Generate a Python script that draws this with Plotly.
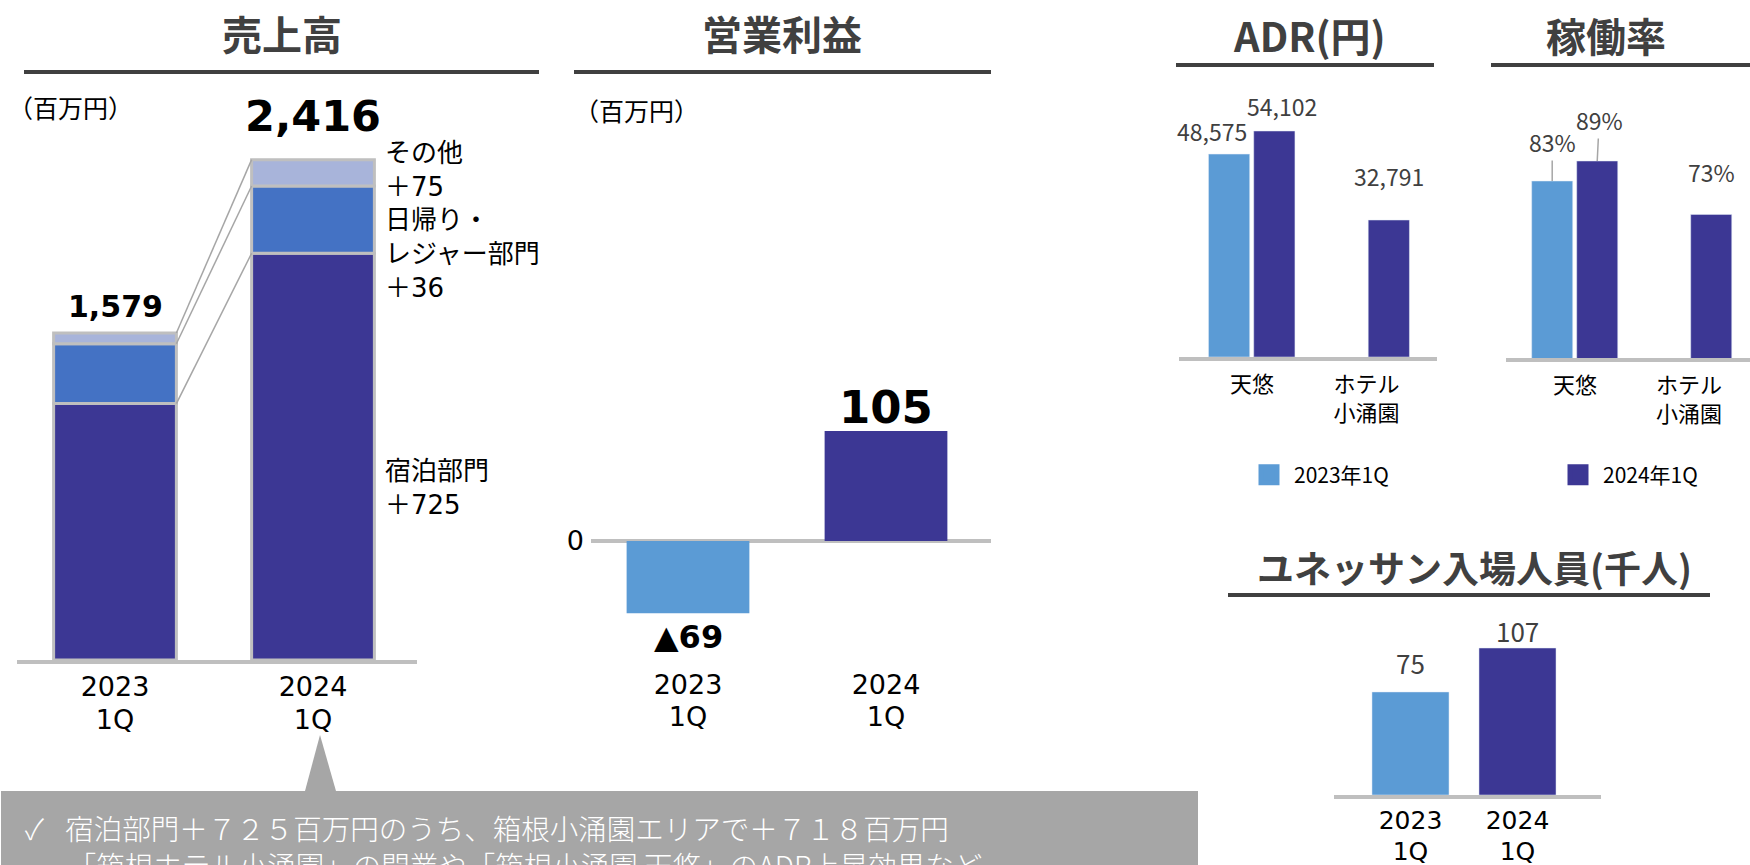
import plotly.graph_objects as go

W, H = 1750, 865
FONT = "Noto Sans CJK JP"
NUMFONT = "DejaVu Sans, Noto Sans CJK JP"
NAVY = "#3C3794"
LIGHT = "#5B9BD5"
MID = "#4472C4"
LAV = "#A8B4DA"
GRAY = "#BFBFBF"
TITLE = "#404040"

# ---------------- data ----------------
period_years = ["2023", "2024"]
period_quarters = ["1Q", "1Q"]
periods = [f"{y} {q}" for y, q in zip(period_years, period_quarters)]
sales_stay = [1238, 1964]
sales_day = [289, 325]
sales_other = [52, 127]
sales_total_labels = ["1,579", "2,416"]
seg_labels = ["宿泊部門<br>＋725", "日帰り・<br>レジャー部門<br>＋36", "その他<br>＋75"]

op_profit = [-69, 105]
op_labels = ["▲69", "105"]

hotels = ["天悠", "ホテル<br>小涌園"]
series_names = ["2023年1Q", "2024年1Q"]
adr_2023 = [48575, None]
adr_2024 = [54102, 32791]
adr_labels_2023 = ["48,575", None]
adr_labels_2024 = ["54,102", "32,791"]
occ_2023 = [83, None]
occ_2024 = [89, 73]

visitors = [75, 107]

titles = ["売上高", "営業利益", "ADR(円)", "稼働率", "ユネッサン入場人員(千人)"]
unit_label = "（百万円）"
callout_text = ("✓\u2002\u2005宿泊部門＋７２５百万円のうち、箱根小涌園エリアで＋７１８百万円<br>"
                "\u3000\u2002「箱根ホテル小涌園」の開業や「箱根小涌園 天悠」のADR上昇効果など")

# ---------------- helpers ----------------
def xd(l, r):
    return [l / W, r / W]

def yd(bottom, top):
    return [1 - bottom / H, 1 - top / H]

def px(x):
    return x / W

def py(y):
    return 1 - y / H

day_base = sales_stay
other_base = [a + b for a, b in zip(sales_stay, sales_day)]
totals = [a + b + c for a, b, c in zip(sales_stay, sales_day, sales_other)]

fig = go.Figure()

# ---- panel 1: stacked sales ----
BW1 = 0.62
for vals, base, col in [(sales_stay, [0, 0], NAVY), (sales_day, day_base, MID), (sales_other, other_base, LAV)]:
    fig.add_trace(go.Bar(x=periods, y=vals, base=base, width=BW1, marker=dict(color=col, line=dict(color=GRAY, width=3)),
                         showlegend=False, xaxis="x", yaxis="y", hoverinfo="skip"))

# ---- panel 2: operating profit ----
fig.add_trace(go.Bar(x=periods, y=op_profit, width=BW1, marker=dict(color=[LIGHT, NAVY], line=dict(width=0)),
                     showlegend=False, xaxis="x2", yaxis="y2", hoverinfo="skip"))

# ---- panel 3: ADR ----
GW = 0.36
OFF23, OFF24 = -0.38, 0.015
fig.add_trace(go.Bar(x=hotels, y=adr_2023, width=GW, offset=OFF23, name=series_names[0], marker=dict(color=LIGHT),
                     showlegend=False, xaxis="x3", yaxis="y3", hoverinfo="skip"))
fig.add_trace(go.Bar(x=hotels, y=adr_2024, width=GW, offset=OFF24, name=series_names[1], marker=dict(color=NAVY),
                     showlegend=False, xaxis="x3", yaxis="y3", hoverinfo="skip"))
# legend entries (bigger swatches)
for nm, col in zip(series_names, [LIGHT, NAVY]):
    fig.add_trace(go.Scatter(x=[None], y=[None], mode="markers", name=nm,
                             marker=dict(symbol="square", size=16, color=col, line=dict(color=col, width=5)),
                             xaxis="x3", yaxis="y3", hoverinfo="skip"))

# ---- panel 4: occupancy (axis starts at 30%) ----
fig.add_trace(go.Bar(x=hotels, y=occ_2023, width=GW, offset=OFF23, marker=dict(color=LIGHT), showlegend=False,
                     xaxis="x4", yaxis="y4", hoverinfo="skip"))
fig.add_trace(go.Bar(x=hotels, y=occ_2024, width=GW, offset=OFF24, marker=dict(color=NAVY), showlegend=False,
                     xaxis="x4", yaxis="y4", hoverinfo="skip"))

# ---- panel 5: visitors ----
fig.add_trace(go.Bar(x=periods, y=visitors, width=0.72, marker=dict(color=[LIGHT, NAVY]), showlegend=False,
                     xaxis="x5", yaxis="y5", hoverinfo="skip"))

# empty traces so that the overlaid "1Q" label axes get drawn
for xa, ya in [("x6", "y"), ("x7", "y2"), ("x8", "y5")]:
    fig.add_trace(go.Scatter(x=[None], y=[None], mode="markers", showlegend=False, hoverinfo="skip",
                             xaxis=xa, yaxis=ya))

ann = []
shapes = []

# titles + underlines
title_pos = [(282, 33, 40), (782, 33, 40), (1309, 35, 40), (1606, 35, 40), (1474, 567, 37)]
for t, (x, y, s) in zip(titles, title_pos):
    ann.append(dict(text=t, x=px(x), y=py(y), xref="paper", yref="paper", xanchor="center", yanchor="middle",
                    showarrow=False, font=dict(family=FONT, size=s, color=TITLE, weight="bold")))
for (x0, x1, y) in [(24, 539, 72), (574, 991, 72), (1176, 1434, 65), (1491, 1750, 65), (1228, 1710, 595)]:
    shapes.append(dict(type="line", xref="paper", yref="paper", x0=px(x0), x1=px(x1), y0=py(y), y1=py(y),
                       line=dict(color=TITLE, width=4)))

for x, y in [(6, 107), (572, 110)]:
    ann.append(dict(text=unit_label, x=px(x), y=py(y), xref="paper", yref="paper", xanchor="left", yanchor="middle",
                    showarrow=False, font=dict(family=FONT, size=25, color="#000")))

# panel 1 labels
for i, (lab, tot, sh, fs) in enumerate(zip(sales_total_labels, totals, [26, 44], [30, 43])):
    ann.append(dict(text=lab, x=i, y=tot, xref="x", yref="y", xanchor="center", yanchor="middle", yshift=sh,
                    showarrow=False, font=dict(family=NUMFONT, size=fs, color="#000", weight="bold")))
seg_mid = [sales_stay[1] / 2, day_base[1] + sales_day[1] / 2, other_base[1] + sales_other[1] / 2]
for lab, ym, sh in zip(seg_labels, seg_mid, [-31, -34, 3]):
    ann.append(dict(text=lab, x=1 + BW1 / 2, y=ym, xref="x", yref="y", xanchor="left", yanchor="middle", xshift=9,
                    yshift=sh, align="left", showarrow=False, font=dict(family=NUMFONT, size=26, color="#000")))
# connectors
conn23 = [sales_stay[0], other_base[0], totals[0]]
conn24 = [sales_stay[1], other_base[1], totals[1]]
for a, b in zip(conn23, conn24):
    shapes.append(dict(type="line", xref="x", yref="y", x0=BW1 / 2, x1=1 - BW1 / 2, y0=a, y1=b,
                       line=dict(color="#A6A6A6", width=1.5)))

# panel 2 labels
for i, (v, lab) in enumerate(zip(op_profit, op_labels)):
    big = v > 0
    ann.append(dict(text=lab, x=i, y=v, xref="x2", yref="y2", xanchor="center", yanchor="middle",
                    yshift=24 if big else -24, showarrow=False,
                    font=dict(family=NUMFONT, size=45 if big else 32, color="#000", weight="bold")))

# panel 3 labels
c23 = OFF23 + GW / 2
c24 = OFF24 + GW / 2
adr_shift_23 = [(-17, 23)]
adr_shift_24 = [(8, 25), (0, 44)]
for i, (v, lab) in enumerate(zip(adr_2023, adr_labels_2023)):
    if v is None:
        continue
    dx, dy = adr_shift_23[i]
    ann.append(dict(text=lab, x=i + c23, y=v, xref="x3", yref="y3", xshift=dx, yshift=dy, showarrow=False,
                    font=dict(family=FONT, size=23, color=TITLE)))
for i, (v, lab) in enumerate(zip(adr_2024, adr_labels_2024)):
    dx, dy = adr_shift_24[i]
    ann.append(dict(text=lab, x=i + c24, y=v, xref="x3", yref="y3", xshift=dx, yshift=dy, showarrow=False,
                    font=dict(family=FONT, size=23, color=TITLE)))

# panel 4 labels
ann.append(dict(text=f"{occ_2023[0]}%", x=0 + c23, y=occ_2023[0], xref="x4", yref="y4", showarrow=True,
                arrowhead=0, arrowwidth=1.5, arrowcolor="#A6A6A6", ax=0, ay=-39,
                font=dict(family=FONT, size=23, color=TITLE)))
ann.append(dict(text=f"{occ_2024[0]}%", x=0 + c24, y=occ_2024[0], xref="x4", yref="y4", showarrow=True,
                arrowhead=0, arrowwidth=1.5, arrowcolor="#A6A6A6", ax=2, ay=-41,
                font=dict(family=FONT, size=23, color=TITLE)))
ann.append(dict(text=f"{occ_2024[1]}%", x=1 + c24, y=occ_2024[1], xref="x4", yref="y4", showarrow=False,
                yshift=42, font=dict(family=FONT, size=23, color=TITLE)))

# panel 5 labels
for i, (v, sh) in enumerate(zip(visitors, [29, 18])):
    ann.append(dict(text=str(v), x=i, y=v, xref="x5", yref="y5", yshift=sh, showarrow=False,
                    font=dict(family=FONT, size=26, color=TITLE)))

# callout box
shapes.append(dict(type="rect", xref="paper", yref="paper", x0=px(1), x1=px(1198), y0=py(791), y1=-0.05,
                   fillcolor="#A6A6A6", line=dict(width=0)))
shapes.append(dict(type="path", xref="paper", yref="paper",
                   path=f"M {px(305)},{py(791)} L {px(320)},{py(735)} L {px(336)},{py(791)} Z",
                   fillcolor="#A6A6A6", line=dict(width=0)))
ann.append(dict(text=callout_text, x=px(22), y=py(805), xref="paper", yref="paper", xanchor="left",
                yanchor="top", align="left", showarrow=False,
                font=dict(family=FONT, size=28.5, color="#FFFFFF", weight=300)))

noy = dict(showgrid=False, zeroline=False, showticklabels=False, ticks="", fixedrange=True)

def year_axis(dom, rng, anchor, size, line, standoff=0):
    return dict(domain=dom, range=rng, type="category", showgrid=False, ticks="", showline=line,
                linecolor=GRAY, linewidth=4, tickmode="array", tickvals=periods, ticktext=period_years,
                ticklabelstandoff=standoff, tickfont=dict(family=NUMFONT, size=size, color="#000"), anchor=anchor)

def quarter_axis(over, rng, anchor, size, standoff):
    return dict(overlaying=over, anchor=anchor, side="bottom", range=rng, type="linear", showgrid=False,
                zeroline=False, showline=False, ticks="", tickmode="array", tickvals=list(range(len(periods))),
                ticktext=period_quarters, ticklabelstandoff=standoff,
                tickfont=dict(family=NUMFONT, size=size, color="#000"))

R1 = [-98 / 198, 1 + 104 / 198]
R2 = [-97 / 198, 1 + 105 / 198]
R5 = [-76.5 / 107, 1 + 83.5 / 107]

fig.update_layout(
    width=W, height=H, margin=dict(l=0, r=0, t=0, b=0, autoexpand=False), paper_bgcolor="white",
    plot_bgcolor="white", barmode="overlay", font=dict(family=FONT),
    xaxis=year_axis(xd(17, 417), R1, "y", 27, True),
    yaxis=dict(domain=yd(660, 100), range=[0, 560 * 1579 / 327], **noy),
    xaxis2=year_axis(xd(591, 991), R2, "y2", 27, False, 6),
    yaxis2=dict(domain=yd(660, 300), range=[-119 * 105 / 110, 241 * 105 / 110], showgrid=False, zeroline=True,
                zerolinecolor=GRAY, zerolinewidth=4, tickvals=[0], ticks="", ticklabelstandoff=6,
                tickfont=dict(family=NUMFONT, size=27, color="#000"), anchor="x2"),
    xaxis3=dict(domain=xd(1179, 1437), range=[-73 / 114.5, 185 / 114.5], type="category", showgrid=False, ticks="",
                showline=True, linecolor=GRAY, linewidth=4, tickfont=dict(family=FONT, size=22, color="#000"),
                ticklabelstandoff=5, anchor="y3"),
    yaxis3=dict(domain=yd(357, 90), range=[0, 267 * 54102 / 226], anchor="x3", **noy),
    xaxis4=dict(domain=xd(1506, 1750), range=[-69 / 114, 175 / 114], type="category", showgrid=False, ticks="",
                showline=True, linecolor=GRAY, linewidth=4, tickfont=dict(family=FONT, size=22, color="#000"),
                ticklabelstandoff=5, anchor="y4"),
    yaxis4=dict(domain=yd(358, 90), range=[30, 30 + 268 * 59 / 197], anchor="x4", **noy),
    xaxis5=year_axis(xd(1334, 1601), R5, "y5", 25, True),
    yaxis5=dict(domain=yd(795, 600), range=[0, 195 * 107 / 147], anchor="x5", **noy),
    xaxis6=quarter_axis("x", R1, "y", 27, 41),
    xaxis7=quarter_axis("x2", R2, "y2", 27, 38),
    xaxis8=quarter_axis("x5", R5, "y5", 25, 39),
    legend=dict(orientation="h", x=px(1244), y=py(475), xanchor="left", yanchor="middle",
                font=dict(family=FONT, size=21, color="#000"), entrywidth=254, entrywidthmode="pixels",
                itemwidth=40, bgcolor="rgba(0,0,0,0)", traceorder="normal"),
    annotations=ann, shapes=shapes,
)

fig.write_html("out.html", config={"displayModeBar": False})
